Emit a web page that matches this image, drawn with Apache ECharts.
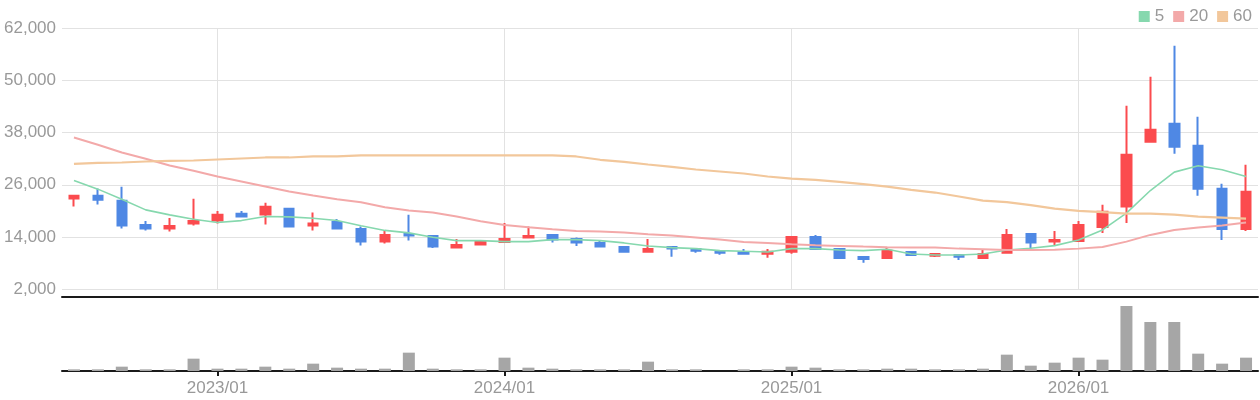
<!DOCTYPE html>
<html>
<head>
<meta charset="utf-8">
<script src="https://cdn.jsdelivr.net/npm/echarts@6/dist/echarts.min.js"></script>
<style>
html,body{margin:0;padding:0;background:#fff;}
#chart{width:1260px;height:400px;}
</style>
</head>
<body>
<div id="chart"></div>
<script>
const categories = [
  '2022/07','2022/08','2022/09','2022/10','2022/11','2022/12',
  '2023/01','2023/02','2023/03','2023/04','2023/05','2023/06','2023/07','2023/08','2023/09','2023/10','2023/11','2023/12',
  '2024/01','2024/02','2024/03','2024/04','2024/05','2024/06','2024/07','2024/08','2024/09','2024/10','2024/11','2024/12',
  '2025/01','2025/02','2025/03','2025/04','2025/05','2025/06','2025/07','2025/08','2025/09','2025/10','2025/11','2025/12',
  '2026/01','2026/02','2026/03','2026/04','2026/05','2026/06','2026/07','2026/08'
];
const openVals = [22838, 23459, 22310, 16790, 15940, 17090, 17780, 19320, 19160, 20470, 16630, 17480, 15870, 12950, 14720, 14260, 11570, 12260, 12880, 13870, 14490, 13570, 12650, 11730, 10650, 11730, 11270, 10810, 10580, 10190, 10650, 14030, 11270, 9430, 9200, 10580, 9730, 9890, 9200, 10420, 14720, 12950, 13100, 16330, 21000, 35880, 40020, 34960, 25070, 15870];
const closeVals = [23459, 22540, 16630, 15940, 16560, 17710, 19090, 18700, 20930, 16400, 17090, 15940, 12950, 14490, 14330, 11800, 12190, 12880, 13570, 14260, 13410, 12720, 11800, 10650, 11270, 11340, 10880, 10420, 10190, 10650, 14030, 11270, 9200, 8970, 10880, 9890, 10120, 9500, 10120, 14490, 12720, 13340, 16790, 19780, 32900, 38640, 34730, 25070, 15870, 24380];
const lowVals = [21000, 21460, 15940, 15480, 15250, 16630, 17090, 18470, 16860, 16170, 15480, 15710, 12030, 12490, 13180, 11500, 11570, 12260, 12720, 13870, 12720, 11960, 11800, 10650, 10420, 9500, 10420, 9960, 10190, 9270, 10190, 11270, 8970, 8120, 9200, 9890, 9430, 8740, 8970, 10190, 11340, 12030, 12880, 14950, 17250, 35650, 33120, 23460, 13340, 15410];
const highVals = [23700, 25140, 25530, 17710, 18400, 22770, 20000, 20000, 21850, 20470, 19620, 18170, 16400, 15480, 19090, 14490, 13570, 13340, 17250, 16400, 14490, 13870, 13340, 11960, 13570, 11960, 11500, 10810, 11270, 11270, 14260, 14490, 11500, 9660, 11500, 10810, 10350, 10120, 11270, 15870, 14950, 15410, 17710, 21390, 44160, 50830, 57940, 41630, 26220, 30590];
const ma5 = [26980, 25000, 22700, 20240, 19090, 18100, 17350, 17780, 18700, 18630, 18330, 17800, 16600, 15520, 14950, 13960, 13180, 13180, 12950, 12950, 13410, 13410, 13180, 12650, 11960, 11570, 11340, 10880, 10740, 10580, 11340, 11340, 11040, 10880, 11200, 10120, 9890, 9890, 10120, 11040, 11430, 12030, 13340, 15640, 19480, 24680, 28910, 30360, 29440, 27900];
const ma20 = [36870, 35190, 33420, 31970, 30430, 29210, 27900, 26750, 25600, 24450, 23530, 22700, 22010, 20860, 20080, 19620, 18700, 17640, 16790, 16260, 15800, 15410, 15250, 15020, 14650, 14330, 13870, 13410, 12880, 12650, 12350, 12120, 11960, 11800, 11660, 11570, 11570, 11340, 11200, 11040, 11040, 11110, 11340, 11730, 12950, 14490, 15640, 16170, 16630, 17320];
const ma60 = [30810, 31040, 31120, 31350, 31510, 31580, 31810, 32040, 32270, 32270, 32500, 32500, 32730, 32730, 32730, 32730, 32730, 32730, 32730, 32730, 32730, 32500, 31740, 31280, 30660, 30130, 29510, 29050, 28590, 27900, 27430, 27130, 26670, 26140, 25590, 24830, 24220, 23300, 22380, 22010, 21320, 20540, 20000, 19710, 19390, 19390, 19160, 18700, 18470, 18240];
const volume = [50000, 50000, 130000, 50000, 50000, 370000, 70000, 70000, 130000, 70000, 220000, 100000, 70000, 70000, 550000, 70000, 50000, 50000, 400000, 100000, 70000, 50000, 50000, 50000, 280000, 50000, 50000, 0, 50000, 50000, 130000, 100000, 50000, 50000, 70000, 70000, 50000, 50000, 70000, 490000, 160000, 250000, 400000, 340000, 1950000, 1470000, 1470000, 520000, 220000, 400000];
const yTicks = {min: 2000, max: 62000, interval: 12000};
const legendNames = ['5', '20', '60'];

const candleData = categories.map((c, i) => [openVals[i], closeVals[i], lowVals[i], highVals[i]]);
const isYearStart = (idx, val) => String(val).slice(5) === '01';
const fontFamily = '"Liberation Sans", Arial, sans-serif';
const labelColor = '#999999';

const chart = echarts.init(document.getElementById('chart'), null, {renderer: 'canvas'});
chart.setOption({
  animation: false,
  backgroundColor: '#ffffff',
  legend: {
    data: legendNames,
    top: 3,
    right: 3,
    icon: 'rect',
    itemWidth: 11,
    itemHeight: 11,
    itemGap: 9,
    textStyle: {fontSize: 17, color: labelColor, fontFamily: fontFamily}
  },
  grid: [
    {left: 62, right: 2, top: 28, height: 261.3},
    {left: 62, right: 2, top: 297, height: 74}
  ],
  xAxis: [
    {
      type: 'category', gridIndex: 0, data: categories, boundaryGap: true,
      offset: 7,
      axisLine: {show: true, lineStyle: {color: '#1a1a1a', width: 2}},
      axisTick: {show: false},
      axisLabel: {show: false},
      splitLine: {show: true, interval: isYearStart, alignWithLabel: true, lineStyle: {color: '#e2e2e2', width: 1}}
    },
    {
      type: 'category', gridIndex: 1, data: categories, boundaryGap: true,
      axisLine: {show: true, lineStyle: {color: '#1a1a1a', width: 2}},
      axisTick: {show: true, alignWithLabel: true, interval: isYearStart, length: 5, lineStyle: {color: '#1a1a1a', width: 2}},
      axisLabel: {show: true, interval: isYearStart, margin: 9, fontSize: 17, color: labelColor, fontFamily: fontFamily},
      splitLine: {show: false}
    }
  ],
  yAxis: [
    {
      type: 'value', gridIndex: 0,
      min: yTicks.min, max: yTicks.max, interval: yTicks.interval,
      axisLine: {show: false}, axisTick: {show: false},
      axisLabel: {
        margin: 6, fontSize: 17, color: labelColor, fontFamily: fontFamily,
        formatter: v => v.toString().replace(/\B(?=(\d{3})+(?!\d))/g, ',')
      },
      splitLine: {show: true, lineStyle: {color: '#e2e2e2', width: 1}}
    },
    {
      type: 'value', gridIndex: 1, min: 0, max: 2220000,
      show: false, splitLine: {show: false}
    }
  ],
  series: [
    {
      type: 'candlestick', name: 'price', xAxisIndex: 0, yAxisIndex: 0,
      data: candleData, barWidth: 10,
      itemStyle: {
        color: '#fb4b4e', color0: '#4f88e4',
        borderColor: '#fb4b4e', borderColor0: '#4f88e4', borderWidth: 2
      },
      z: 3
    },
    {
      type: 'line', name: '5', xAxisIndex: 0, yAxisIndex: 0, data: ma5,
      symbol: 'none', smooth: false, lineStyle: {color: '#86d8ae', width: 1.6},
      itemStyle: {color: '#86d8ae'}, z: 4
    },
    {
      type: 'line', name: '20', xAxisIndex: 0, yAxisIndex: 0, data: ma20,
      symbol: 'none', smooth: false, lineStyle: {color: '#f3a9a9', width: 2},
      itemStyle: {color: '#f3a9a9'}, z: 4
    },
    {
      type: 'line', name: '60', xAxisIndex: 0, yAxisIndex: 0, data: ma60,
      symbol: 'none', smooth: false, lineStyle: {color: '#f2c79b', width: 2.2},
      itemStyle: {color: '#f2c79b'}, z: 4
    },
    {
      type: 'bar', name: 'volume', xAxisIndex: 1, yAxisIndex: 1, data: volume,
      barWidth: 12, itemStyle: {color: '#a6a6a6'}
    }
  ]
});
</script>
</body>
</html>
